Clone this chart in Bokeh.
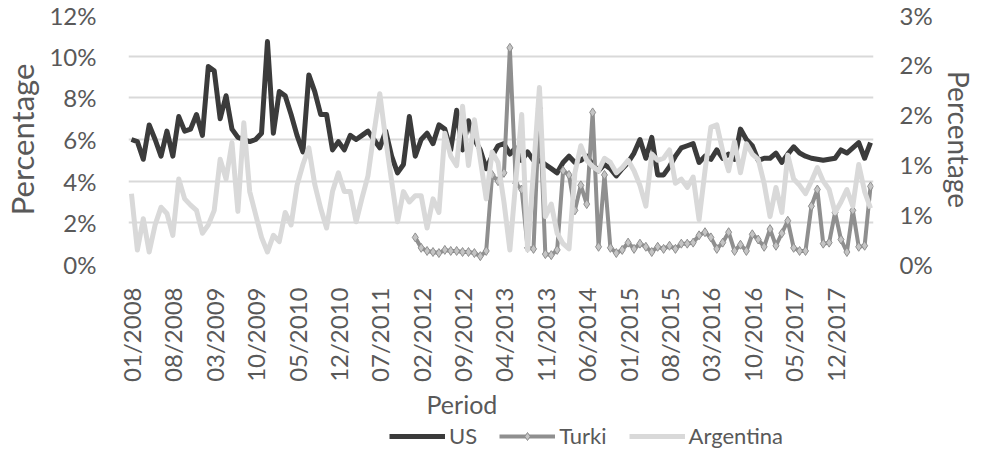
import math
import numpy as np
import pandas as pd
from bokeh.plotting import figure
from bokeh.layouts import column
from bokeh.models import (ColumnDataSource, Range1d, LinearAxis, FixedTicker,
                          PrintfTickFormatter, Legend, LegendItem, Title)
from bokeh.embed import file_html
from bokeh.resources import INLINE

# ---------------- data ----------------
periods = pd.date_range("2008-01-01", periods=126, freq="MS").strftime("%m/%Y").tolist()

tick_labels = ["01/2008", "08/2008", "03/2009", "10/2009", "05/2010", "12/2010",
               "07/2011", "02/2012", "09/2012", "04/2013", "11/2013", "06/2014",
               "01/2015", "08/2015", "03/2016", "10/2016", "05/2017", "12/2017"]

us = [6.0, 5.9, 5.05, 6.7, 6.0, 5.2, 6.4, 5.2, 7.1, 6.4,
      6.5, 7.2, 6.2, 9.5, 9.3, 7.0, 8.1, 6.5, 6.1, 6.0,
      5.9, 6.0, 6.3, 10.7, 6.3, 8.3, 8.1, 7.2, 6.2, 5.4,
      9.1, 8.3, 7.2, 7.2, 5.5, 5.9, 5.5, 6.2, 6.0, 6.2,
      6.4, 6.0, 5.6, 6.4, 5.2, 4.4, 4.8, 7.1, 5.2, 6.0,
      6.3, 5.8, 6.7, 6.5, 5.5, 7.4, 5.5, 6.9, 6.0, 5.5,
      4.6, 5.2, 5.7, 5.8, 5.3, 5.6, 5.0, 5.4, 5.0, 5.0,
      4.8, 4.6, 4.4, 4.9, 5.2, 4.9, 5.0, 5.2, 4.8, 4.5,
      4.8, 4.6, 4.25, 4.6, 4.9, 5.35, 6.0, 5.1, 6.1, 4.3,
      4.3, 4.7, 5.2, 5.6, 5.7, 5.8, 4.9, 5.2, 5.05, 5.5,
      5.1, 5.3, 5.05, 6.5, 6.0, 5.7, 5.0, 5.1, 5.1, 5.35,
      4.9, 5.3, 5.65, 5.35, 5.2, 5.1, 5.05, 5.0, 5.05, 5.1,
      5.5, 5.35, 5.6, 5.85, 5.1, 5.85]

turki = [np.nan] * 48 + [
      1.3, 0.8, 0.65, 0.6, 0.55, 0.7, 0.65, 0.65, 0.6, 0.6,
      0.55, 0.4, 0.65, 4.3, 4.0, 4.4, 10.4, 3.9, 3.6, 0.8,
      0.75, 7.5, 0.5, 0.45, 0.7, 4.5, 4.3, 2.6, 3.8, 2.9,
      7.3, 0.85, 4.3, 0.8, 0.55, 0.7, 1.05, 0.75, 1.0, 0.85,
      0.6, 0.85, 0.75, 0.9, 0.75, 1.0, 1.0, 1.05, 1.4, 1.55,
      1.3, 0.75, 1.05, 1.55, 0.65, 0.95, 0.65, 1.45, 1.2, 0.85,
      1.7, 0.9, 1.5, 2.1, 0.8, 0.65, 0.65, 2.8, 3.6, 1.0,
      1.05, 2.5, 1.2, 0.6, 2.6, 0.85, 0.9, 3.75]

argentina = [3.4, 0.7, 2.2, 0.6, 1.9, 2.75, 2.45, 1.4, 4.1, 3.15,
      2.85, 2.6, 1.5, 1.9, 2.6, 5.05, 4.1, 5.85, 2.55, 6.8,
      3.5, 2.4, 1.3, 0.6, 1.4, 1.1, 2.5, 1.9, 3.8, 4.8,
      5.6, 3.85, 2.7, 1.75, 3.5, 4.4, 3.5, 3.5, 2.05, 3.2,
      4.25, 6.3, 8.2, 6.0, 4.0, 2.05, 3.5, 3.0, 3.3, 3.3,
      1.75, 3.15, 2.5, 6.3, 5.2, 4.75, 7.6, 4.75, 6.95, 5.05,
      3.15, 5.4, 4.9, 3.0, 0.7, 4.0, 7.2, 0.7, 4.5, 8.5,
      2.3, 2.9, 1.5, 1.0, 0.75, 4.4, 5.7, 5.0, 4.7, 4.5,
      5.1, 4.9, 4.4, 4.65, 5.0, 4.5, 3.8, 2.8, 5.3, 5.0,
      5.1, 5.5, 3.9, 4.1, 3.7, 4.2, 2.15, 4.5, 6.6, 6.7,
      5.45, 4.5, 5.9, 4.4, 5.8, 5.3, 5.05, 3.9, 2.3, 3.7,
      2.5, 5.25, 4.1, 3.8, 3.4, 4.0, 4.65, 4.0, 3.6, 2.5,
      3.0, 3.6, 2.8, 4.8, 3.5, 2.7]

left_ticks = [0, 2, 4, 6, 8, 10, 12]
right_ticks = [0, 0.6, 1.2, 1.8, 2.4, 3.0]

# ---------------- styles ----------------
FONT = "Lato"
TXT = "#595959"
C_US, C_TK, C_TK_FILL, C_AR = "#3b3b3b", "#8f8f8f", "#c4c4c4", "#d9d9d9"

x = list(range(len(periods)))
tick_pos = [periods.index(t) for t in tick_labels]

src = ColumnDataSource(dict(x=x, period=periods, us=us,
                            turki=np.array(turki, dtype=float), argentina=argentina))

W = 978
MAIN_H = 421

# ---------------- main figure ----------------
p = figure(width=W, height=MAIN_H, output_backend="svg", toolbar_location=None,
           x_range=Range1d(-0.5, len(periods) - 0.5), y_range=Range1d(0, 12),
           min_border_left=113, min_border_right=99, min_border_top=14,
           min_border_bottom=152)
p.outline_line_color = None
p.xgrid.visible = False
p.ygrid.grid_line_color = "#d9d9d9"
p.ygrid.grid_line_width = 2

ya = p.yaxis[0]
ya.ticker = FixedTicker(ticks=left_ticks)
ya.formatter = PrintfTickFormatter(format="%d%%")
ya.axis_label = "Percentage"

p.extra_y_ranges = {"right": Range1d(0, 3)}
ra = LinearAxis(y_range_name="right", ticker=FixedTicker(ticks=right_ticks),
                formatter=PrintfTickFormatter(format="%.0f%%"), axis_label="Percentage")
p.add_layout(ra, "right")

xa = p.xaxis[0]
xa.ticker = FixedTicker(ticks=tick_pos)
xa.major_label_overrides = {pos: lab for pos, lab in zip(tick_pos, tick_labels)}
xa.major_label_orientation = math.pi / 2

for ax in [ya, ra, xa]:
    ax.axis_line_color = None
    ax.major_tick_line_color = None
    ax.minor_tick_line_color = None
    ax.major_label_text_font = FONT
    ax.major_label_text_font_size = "24px"
    ax.major_label_text_color = TXT
    ax.axis_label_text_font = FONT
    ax.axis_label_text_font_size = "31px"
    ax.axis_label_text_font_style = "normal"
    ax.axis_label_text_color = TXT
ra.axis_label_text_font_size = "28px"

ya.major_label_standoff = 26
ya.axis_label_standoff = 5
ra.major_label_standoff = 20
ra.axis_label_standoff = 6
xa.major_label_standoff = 17

p.add_layout(Title(text="Period", align="left", offset=298, standoff=5,
                   text_font=FONT, text_font_size="25px", text_font_style="normal",
                   text_color=TXT), "below")

r_us = p.line("x", "us", source=src, line_color=C_US, line_width=5, line_join="round")
r_tl = p.line("x", "turki", source=src, line_color=C_TK, line_width=4, line_join="round")
r_tm = p.scatter("x", "turki", source=src, marker="diamond", size=9,
                 fill_color=C_TK_FILL, line_color=C_TK, line_width=1)
r_ar = p.line("x", "argentina", source=src, line_color=C_AR, line_width=5, line_join="round")

# ---------------- legend strip ----------------
p3 = figure(width=W, height=28, output_backend="svg", toolbar_location=None,
            x_axis_type=None, y_axis_type=None, min_border=0,
            x_range=Range1d(0, 1), y_range=Range1d(0, 1))
p3.outline_line_color = None
k_us = p3.line("x", "us", source=src, line_color=C_US, line_width=5, visible=False)
k_tl = p3.line("x", "turki", source=src, line_color=C_TK, line_width=4, visible=False)
k_tm = p3.scatter("x", "turki", source=src, marker="diamond", size=9, fill_color=C_TK_FILL,
                  line_color=C_TK, line_width=1, visible=False)
k_ar = p3.line("x", "argentina", source=src, line_color=C_AR, line_width=5, visible=False)
legend = Legend(items=[LegendItem(label="US", renderers=[k_us]),
                       LegendItem(label="Turki", renderers=[k_tl, k_tm]),
                       LegendItem(label="Argentina", renderers=[k_ar])],
                orientation="horizontal", location=(261, 0),
                label_text_font=FONT, label_text_font_size="22px", label_text_color=TXT,
                glyph_width=56, glyph_height=20, label_height=20, spacing=22,
                label_standoff=4, inactive_fill_alpha=0, border_line_color=None,
                background_fill_alpha=0, padding=0, margin=0)
p3.add_layout(legend, "center")

layout = column(p, p3, spacing=0)
open("out.html", "w").write(file_html(layout, INLINE))
